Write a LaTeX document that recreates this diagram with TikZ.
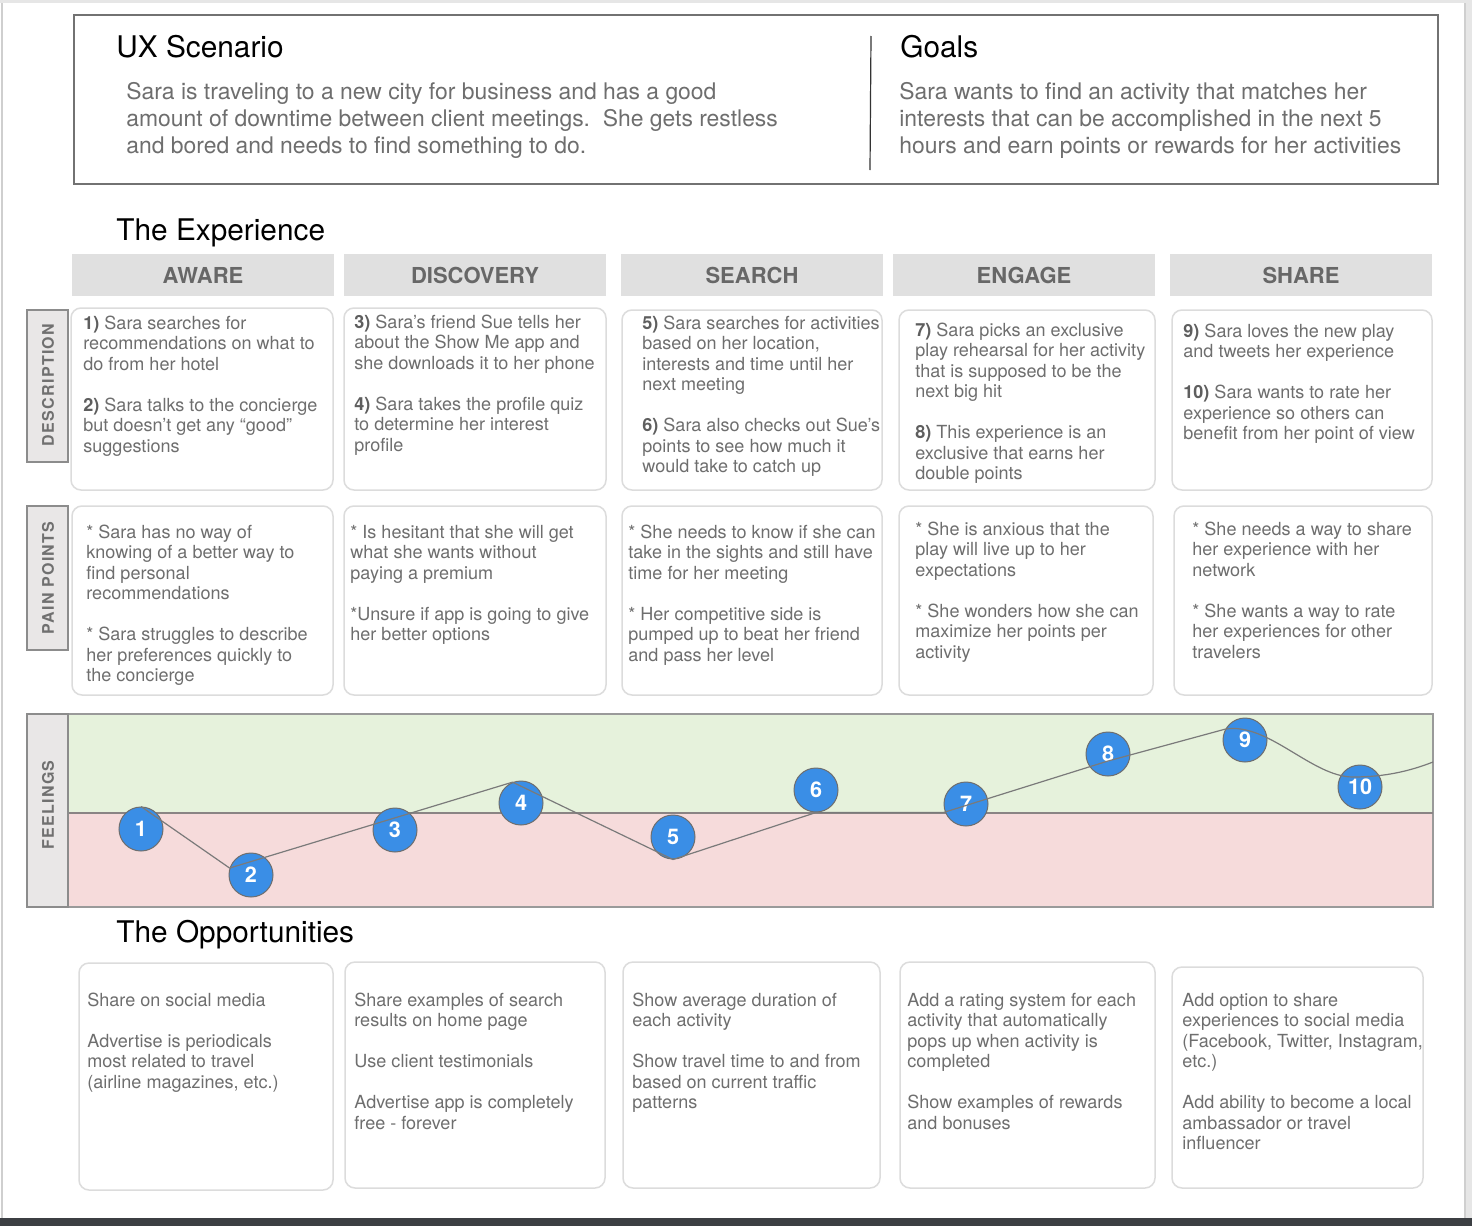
\documentclass[tikz,border=0pt]{standalone}
\usepackage{fontspec}
\setmainfont{TeX Gyre Heros}
\newfontfamily\lblfont[LetterSpace=8]{TeX Gyre Heros}
\usetikzlibrary{calc}

\definecolor{txt}{HTML}{6E6E6E}
\definecolor{numtxt}{HTML}{5E5E5E}
\definecolor{hdrfill}{HTML}{E0E0E0}
\definecolor{hdrtxt}{HTML}{676767}
\definecolor{cardline}{HTML}{DCDCDC}
\definecolor{sidefill}{HTML}{E9E7E7}
\definecolor{sideline}{HTML}{8C8C8C}
\definecolor{sidetxt}{HTML}{707070}
\definecolor{goodfill}{HTML}{E6F2DC}
\definecolor{badfill}{HTML}{F6DBDB}
\definecolor{bandline}{HTML}{9A9A9A}
\definecolor{midline}{HTML}{8A8484}
\definecolor{dotblue}{HTML}{3A8EE6}
\definecolor{dotline}{HTML}{6E6E6E}
\definecolor{trend}{HTML}{7A7A7A}
\definecolor{frameline}{HTML}{727272}
\definecolor{edgegray}{HTML}{E6E6E6}
\definecolor{edgeline}{HTML}{CFCFCF}
\definecolor{footbar}{HTML}{3C3F43}

\newcommand{\gap}{\\[10.25pt]}
\newcommand{\nb}[1]{{\bfseries\color{numtxt}#1}}

\tikzset{
  card/.style={draw=cardline, line width=0.75pt, fill=white, rounded corners=5pt},
  body/.style={anchor=north west, inner sep=0pt, align=left, text=txt,
               font=\fontsize{9.02}{10.25}\selectfont},
  lead/.style={anchor=north west, inner sep=0pt, align=left, text=txt,
               font=\fontsize{11.45}{13.5}\selectfont},
  title/.style={anchor=base west, inner sep=0pt, text=black,
                font=\fontsize{14.9}{18}\selectfont},
  hdr/.style={fill=hdrfill, minimum width=131pt, minimum height=21pt, inner sep=0pt,
              text=hdrtxt, font=\fontsize{11}{13}\selectfont\bfseries},
  sidebox/.style={fill=sidefill, draw=sideline, line width=0.8pt},
  sidetext/.style={rotate=90, inner sep=0pt, text=sidetxt,
                   font=\fontsize{8}{10}\lblfont\bfseries},
  dot/.style={circle, fill=dotblue, draw=dotline, line width=0.5pt,
              minimum size=22pt, inner sep=0pt, text=white,
              font=\fontsize{10.8}{12}\selectfont\bfseries},
}

\begin{document}
\begin{tikzpicture}[x=0.5pt, y=-0.5pt]
% page and window edges
\fill[white] (0,0) rectangle (1472,1226);
\useasboundingbox (0,0) rectangle (1472,1226);
\fill[edgegray] (0,0) rectangle (1472,3);
\fill[edgegray] (1465,0) rectangle (1472,1226);
\draw[edgeline, line width=0.6pt] (1465,3) -- (1465,1218);
\draw[edgeline, line width=1pt] (1.5,3) -- (1.5,1218);
\fill[footbar] (0,1218) rectangle (1472,1226);

% scenario and goals frame
\draw[frameline, line width=1.1pt] (74,15) rectangle (1438,184);
\draw[black!80, line width=0.6pt] (871,36) -- (870,170);
\node[title] (ux) at (116,57) {UX Scenario};
\node[lead] (uxtext) at (126,82) {Sara is traveling to a new city for business and has a good\\
amount of downtime between client meetings.\ \ She gets restless\\
and bored and needs to find something to do.};
\node[title] (goals) at (900,57) {Goals};
\node[lead] (goaltext) at (899,82) {Sara wants to find an activity that matches her\\
interests that can be accomplished in the next 5\\
hours and earn points or rewards for her activities};

% experience stages
\node[title] (exp) at (116,240) {The Experience};
\node[hdr] (h1) at (203,275) {AWARE};
\node[hdr] (h2) at (475,275) {DISCOVERY};
\node[hdr] (h3) at (752,275) {SEARCH};
\node[hdr] (h4) at (1024,275) {ENGAGE};
\node[hdr] (h5) at (1301,275) {SHARE};

% row labels
\fill[sidebox] (27,310) rectangle (68,462);
\node[sidetext] (ldesc) at (48,385) {DESCRIPTION};
\fill[sidebox] (27,506) rectangle (68,650);
\node[sidetext] (lpain) at (48,578) {PAIN POINTS};

% description cards
\draw[card] (71,308) rectangle (333,490);
\draw[card] (344,308) rectangle (606,490);
\draw[card] (622,310) rectangle (882,490);
\draw[card] (899,310) rectangle (1155,490);
\draw[card] (1172,310) rectangle (1432,490);

\node[body] (d1) at (83,315.6) {\nb{1)} Sara searches for\\
recommendations on what to\\
do from her hotel\gap
\nb{2)} Sara talks to the concierge\\
but doesn’t get any “good”\\
suggestions};
\node[body] (d2) at (354,314.6) {\nb{3)} Sara’s friend Sue tells her\\
about the Show Me app and\\
she downloads it to her phone\gap
\nb{4)} Sara takes the profile quiz\\
to determine her interest\\
profile};
\node[body] (d3) at (642,315.6) {\nb{5)} Sara searches for activities\\
based on her location,\\
interests and time until her\\
next meeting\gap
\nb{6)} Sara also checks out Sue’s\\
points to see how much it\\
would take to catch up};
\node[body] (d4) at (915,322.6) {\nb{7)} Sara picks an exclusive\\
play rehearsal for her activity\\
that is supposed to be the\\
next big hit\gap
\nb{8)} This experience is an\\
exclusive that earns her\\
double points};
\node[body] (d5) at (1183,323.6) {\nb{9)} Sara loves the new play\\
and tweets her experience\gap
\nb{10)} Sara wants to rate her\\
experience so others can\\
benefit from her point of view};

% pain point cards
\draw[card] (72,506) rectangle (333,695);
\draw[card] (344,506) rectangle (606,695);
\draw[card] (622,506) rectangle (882,695);
\draw[card] (899,506) rectangle (1153,695);
\draw[card] (1174,506) rectangle (1432,695);

\node[body] (p1) at (86,524.6) {* Sara has no way of\\
knowing of a better way to\\
find personal\\
recommendations\gap
* Sara struggles to describe\\
her preferences quickly to\\
the concierge};
\node[body] (p2) at (350,524.6) {* Is hesitant that she will get\\
what she wants without\\
paying a premium\gap
*Unsure if app is going to give\\
her better options};
\node[body] (p3) at (628,524.6) {* She needs to know if she can\\
take in the sights and still have\\
time for her meeting\gap
* Her competitive side is\\
pumped up to beat her friend\\
and pass her level};
\node[body] (p4) at (915,521.6) {* She is anxious that the\\
play will live up to her\\
expectations\gap
* She wonders how she can\\
maximize her points per\\
activity};
\node[body] (p5) at (1192,521.6) {* She needs a way to share\\
her experience with her\\
network\gap
* She wants a way to rate\\
her experiences for other\\
travelers};

% feelings band
\fill[goodfill] (68,714) rectangle (1433,813);
\fill[badfill] (68,813) rectangle (1433,907);
\draw[bandline, line width=0.7pt] (68,714) rectangle (1433,907);
\draw[midline, line width=1.1pt] (68,813) -- (1433,813);
\fill[sidebox] (27,714) rectangle (68,907);
\node[sidetext] (lfeel) at (48,805) {FEELINGS};

\node[dot] (c1) at (141,829) {1};
\node[dot] (c2) at (251,875) {2};
\node[dot] (c3) at (395,830) {3};
\node[dot] (c4) at (521,803) {4};
\node[dot] (c5) at (673,837) {5};
\node[dot] (c6) at (816,790) {6};
\node[dot] (c7) at (966,804) {7};
\node[dot] (c8) at (1108,754) {8};
\node[dot] (c9) at (1245,740) {9};
\node[dot] (c10) at (1360,787) {10};

\coordinate (k8) at (1108,761);
\coordinate (trendend) at (1433,762);
\draw[trend, line width=0.6pt, line join=round]
  (c1.north) -- (c2.162) -- (c4.112) -- (c5.south) -- (c6.south)
  -- (c6.south -| c7.west) -- (k8) -- (c9.151)
  .. controls (1268,722) and (1312,777) .. (1353,777)
  .. controls (1385,777) and (1410,771) .. (trendend);

% opportunities
\node[title] (opp) at (116,942) {The Opportunities};
\draw[card] (79,963) rectangle (333,1190);
\draw[card] (345,962) rectangle (605,1188);
\draw[card] (623,962) rectangle (880,1188);
\draw[card] (900,962) rectangle (1155,1188);
\draw[card] (1172,967) rectangle (1423,1188);

\node[body] (o1) at (87,992.6) {Share on social media\gap
Advertise is periodicals\\
most related to travel\\
(airline magazines, etc.)};
\node[body] (o2) at (354,992.6) {Share examples of search\\
results on home page\gap
Use client testimonials\gap
Advertise app is completely\\
free - forever};
\node[body] (o3) at (632,992.6) {Show average duration of\\
each activity\gap
Show travel time to and from\\
based on current traffic\\
patterns};
\node[body] (o4) at (907,992.6) {Add a rating system for each\\
activity that automatically\\
pops up when activity is\\
completed\gap
Show examples of rewards\\
and bonuses};
\node[body] (o5) at (1182,992.6) {Add option to share\\
experiences to social media\\
(Facebook, Twitter, Instagram,\\
etc.)\gap
Add ability to become a local\\
ambassador or travel\\
influencer};
\end{tikzpicture}
\end{document}
